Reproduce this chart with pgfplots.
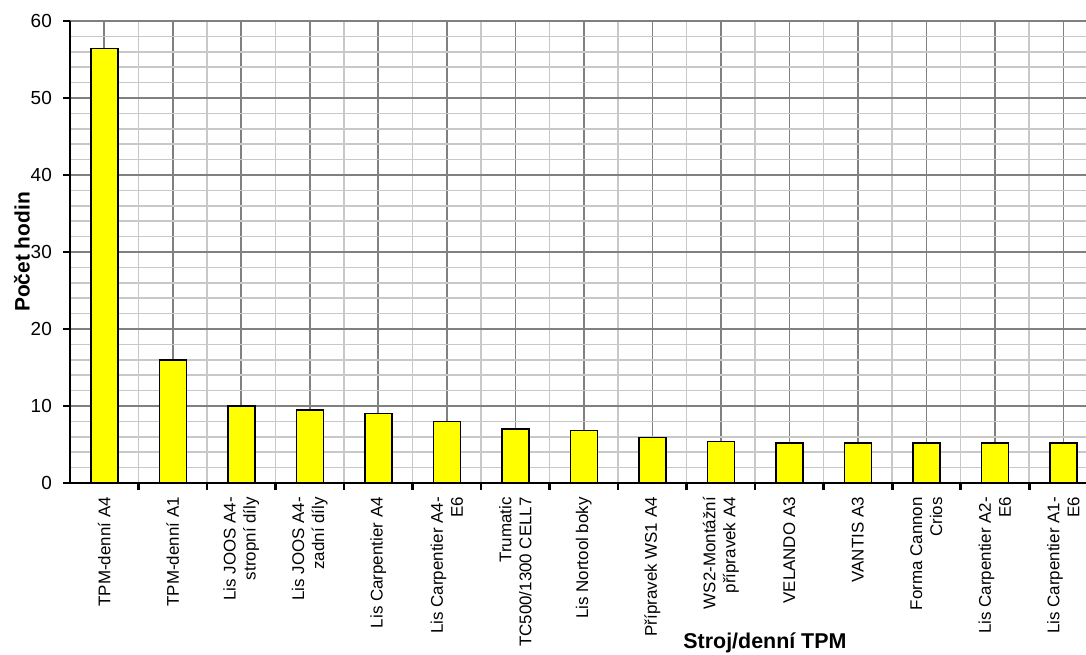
\documentclass[border=0pt]{standalone}
\usepackage{fontspec}
\setmainfont{Liberation Sans}
\usepackage{pgfplots}
\pgfplotsset{compat=1.18}

\definecolor{gridDark}{RGB}{128,128,128}
\definecolor{gridLight}{RGB}{200,200,200}
\definecolor{barYellow}{RGB}{255,255,0}

\begin{document}
\begin{tikzpicture}[x=1bp,y=1bp]
% fixed page frame
\path[use as bounding box] (-70,-172) rectangle (1016,483);
\begin{axis}[
    at={(0,0)}, anchor=south west,
    width=1016bp, height=462bp, scale only axis,
    xmin=-0.5, xmax=14.33,
    ymin=0, ymax=60,
    axis x line*=bottom, axis y line*=left,
    axis line style={-, black, line width=2.6bp},
    tick align=outside,
    major tick length=7bp,
    minor tick length=7bp,
    xtick={0,...,14},
    minor xtick={0.5,1.5,...,13.5},
    ytick={0,10,...,60},
    minor ytick={2,4,...,58},
    grid=both,
    major grid style={gridDark, line width=1.6bp},
    minor grid style={gridLight, line width=1.6bp},
    major x tick style={draw=none},
    minor x tick style={black, line width=2.8bp},
    major y tick style={black, line width=2.6bp},
    minor y tick style={draw=none},
    /pgf/number format/assume math mode=true,
    xticklabels={
        {TPM-denní A4},
        {TPM-denní A1},
        {Lis JOOS A4-\\stropní díly},
        {Lis JOOS A4-\\zadní díly},
        {Lis Carpentier A4},
        {Lis Carpentier A4-\\E6},
        {Trumatic\\TC500/1300 CELL7},
        {Lis Nortool boky},
        {Přípravek WS1 A4},
        {WS2-Montážní\\přípravek A4},
        {VELANDO A3},
        {VANTIS A3},
        {Forma Cannon\\Crios},
        {Lis Carpentier A2-\\E6},
        {Lis Carpentier A1-\\E6}},
    xticklabel style={yshift=-7bp, rotate=90, anchor=east, align=right,
        font=\fontsize{17}{20}\selectfont, inner sep=0pt},
    yticklabel style={font=\fontsize{19}{20}\selectfont, inner sep=0pt, xshift=-11bp},
    ylabel={Počet hodin},
    ylabel style={at={(axis description cs:0,0.5)}, anchor=center,
        yshift=48bp, font=\bfseries\fontsize{21}{23}\selectfont},
    xlabel={Stroj/denní TPM},
    xlabel style={at={(axis description cs:0.684,0)}, anchor=center,
        yshift=-160bp, font=\bfseries\fontsize{21.5}{23}\selectfont},
    clip=false,
]
\addplot[ybar, bar width=27bp, fill=barYellow, draw=black, line width=1.5bp]
    coordinates {
    (0,56.4) (1,16) (2,10) (3,9.5) (4,9) (5,8) (6,7) (7,6.8)
    (8,5.9) (9,5.4) (10,5.2) (11,5.2) (12,5.2) (13,5.2) (14,5.2)
    };
\end{axis}
\end{tikzpicture}
\end{document}
